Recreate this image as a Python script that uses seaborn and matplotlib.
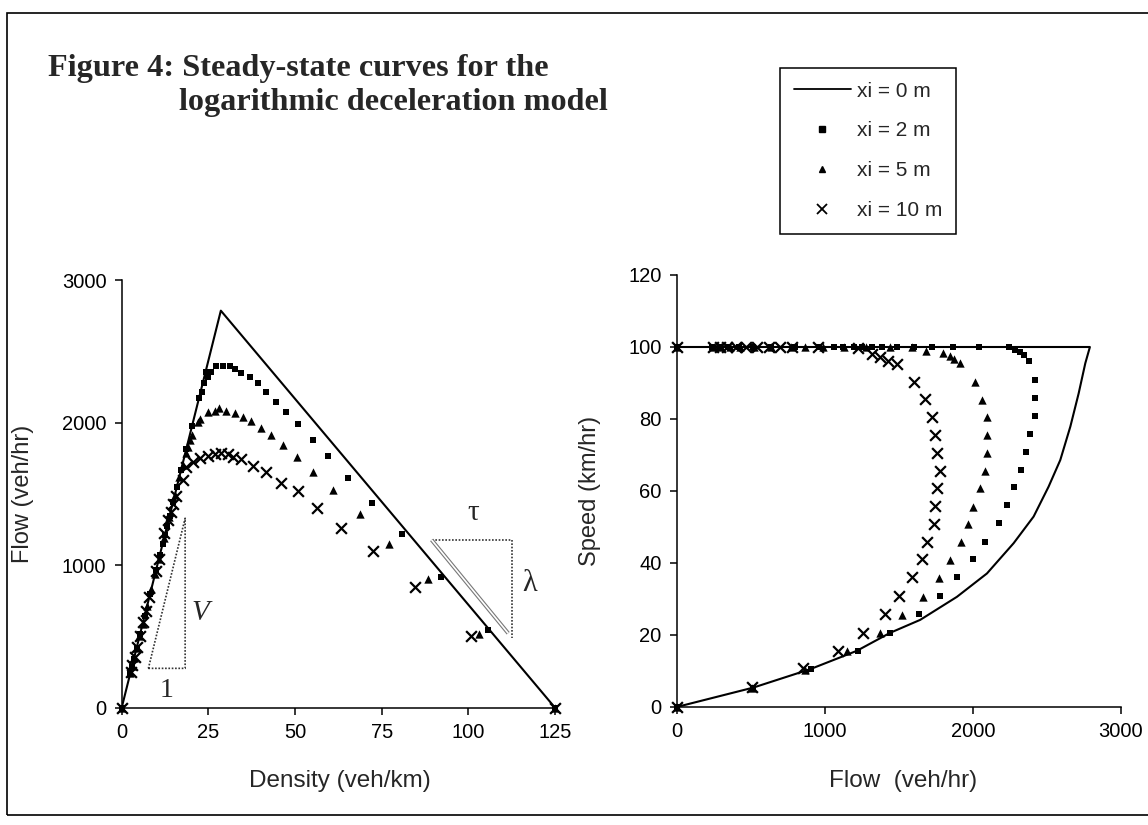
import matplotlib
matplotlib.use("Agg")
import matplotlib.pyplot as plt
import seaborn as sns
from matplotlib.lines import Line2D
from matplotlib.patches import Rectangle

# ---- left panel: flow (veh/hr) against density (veh/km) ----
k_line0 = [0, 28.6, 125]
q_line0 = [0, 2785, 0]

k_xi2 = [0, 2.4, 2.9, 3.5, 4.3, 5.3, 6.6, 8.2, 9.9, 11.0, 11.8, 12.4, 13.1, 13.8,
         14.8, 15.9, 17.1, 18.6, 20.3, 22.3, 23.3, 23.7, 25.0, 24.4, 25.9,
         27.3, 29.2, 31.1, 32.6, 34.5, 36.9, 39.3, 41.7, 44.6, 47.5, 50.8, 55.1,
         59.5, 65.3, 72.3, 80.9, 92.2, 105.6, 125]
q_xi2 = [0, 234, 283, 341, 419, 516, 643, 799, 964, 1071, 1149, 1208, 1276, 1344,
         1441, 1549, 1666, 1812, 1977, 2170, 2214, 2275, 2322, 2356, 2356,
         2399, 2399, 2399, 2373, 2345, 2317, 2275, 2214, 2146, 2075, 1989, 1878,
         1767, 1614, 1436, 1216, 920, 546, 0]

k_xi5 = [0, 2.5, 3.0, 3.6, 4.3, 5.1, 6.1, 7.3, 8.5, 9.6, 10.7, 12.2, 13.7, 15.3,
         16.6, 17.7, 18.5, 19.0, 19.6, 20.3, 22.0, 22.5,
         24.9, 26.8, 28.2, 30.2, 32.6, 35.0, 37.4, 40.3, 43.2, 46.5, 50.6, 55.2,
         61.0, 68.7, 77.1, 88.4, 103.2, 125]
q_xi5 = [0, 240, 290, 350, 420, 500, 590, 710, 830, 935, 1045, 1190, 1335, 1490,
         1620, 1700, 1790, 1830, 1875, 1915, 2005, 2022,
         2075, 2082, 2099, 2082, 2068, 2040, 2012, 1965, 1911, 1841, 1759, 1654,
         1525, 1356, 1150, 900, 518, 0]

k_xi10 = [0, 2.6, 3.1, 3.7, 4.4, 5.2, 6.2, 7.0, 8.0, 9.8, 10.7, 12.3, 13.4, 14.1,
          14.9, 15.6, 17.7, 18.6, 20.6, 22.5,
          24.9, 26.8, 28.7, 30.7, 32.1, 34.5, 37.9, 41.7, 45.9, 51.0, 56.2, 63.2,
          72.5, 84.5, 100.9, 125]
q_xi10 = [0, 250, 300, 355, 425, 505, 600, 680, 777, 957, 1040, 1227, 1318, 1374,
          1430, 1486, 1599, 1689, 1724, 1748,
          1764, 1778, 1787, 1778, 1755, 1741, 1694, 1654, 1579, 1517, 1404, 1263,
          1098, 846, 506, 0]

# ---- right panel: speed (km/hr) against flow (veh/hr) ----
flow_line0 = [0, 518, 901, 1216, 1441, 1644, 1892, 2095, 2275, 2410, 2511, 2590,
              2658, 2714, 2759, 2790, 0]
v_line0 = [0, 5.4, 10.5, 15.6, 20.6, 24.2, 30.6, 37.1, 45.5, 52.9, 61.2, 68.6,
           77.9, 87.1, 95.5, 100, 100]

flow_xi2 = [0, 241, 290, 345, 420, 515, 640, 800, 960, 1060, 1126, 1194, 1250,
            1318, 1385, 1486, 1599, 1723, 1869, 2038, 2241,
            2286, 2320, 2347, 2376, 2417, 2417, 2417, 2387, 2360, 2327, 2279,
            2230, 2173, 2085, 2004, 1896, 1779, 1637, 1441, 1227, 910, 518, 0]
v_xi2 = [100, 100, 100, 100, 100, 100, 100, 100, 100, 100, 100, 100, 100,
         100, 100, 100, 100, 100, 100, 100, 100,
         99.2, 98.7, 97.8, 96.2, 90.8, 85.7, 80.8, 75.8, 70.9, 65.8, 61.2,
         56.1, 51.0, 45.9, 41.0, 36.0, 30.8, 25.8, 20.6, 15.6, 10.6, 5.4, 0]

flow_xi5 = [0, 250, 300, 360, 430, 520, 640, 770, 867, 990, 1130, 1280, 1440, 1590,
            1684, 1797, 1847, 1874, 1914, 2016, 2061, 2095, 2095, 2095, 2083,
            2049, 2004, 1970, 1919, 1847, 1768, 1662, 1520, 1374, 1149, 867, 507, 0]
v_xi5 = [100, 100, 100, 100, 100, 100, 100, 100, 100, 100, 100, 100, 100, 100,
         99.0, 98.2, 97.5, 96.6, 95.6, 90.4, 85.3, 80.5, 75.6, 70.6, 65.6,
         60.7, 55.6, 50.8, 45.9, 40.8, 35.7, 30.6, 25.6, 20.6, 15.6, 10.3, 5.4, 0]

flow_xi10 = [0, 245, 290, 340, 400, 470, 545, 620, 700, 777, 957,
             1227, 1318, 1374, 1430, 1486, 1599, 1678, 1723, 1745, 1757, 1779,
             1757, 1745, 1734, 1689, 1655, 1588, 1504, 1407, 1261, 1088, 856, 507, 0]
v_xi10 = [100, 100, 100, 100, 100, 100, 100, 100, 100, 100, 100,
          99.6, 98.0, 97.3, 96.2, 95.3, 90.4, 85.5, 80.5, 75.6, 70.6, 65.6,
          60.7, 55.8, 50.8, 45.9, 41.0, 36.0, 30.8, 25.8, 20.6, 15.6, 10.7, 5.6, 0]

legend_labels = ["xi = 0 m", "xi = 2 m", "xi = 5 m", "xi = 10 m"]

sns.set_theme(style="ticks")
plt.rcParams["font.family"] = ["Liberation Sans", "DejaVu Sans"]
plt.rcParams["axes.linewidth"] = 1.1
plt.rcParams["xtick.major.width"] = 1.1
plt.rcParams["ytick.major.width"] = 1.1
plt.rcParams["xtick.major.size"] = 5
plt.rcParams["ytick.major.size"] = 5

W, H = 1148, 825
fig = plt.figure(figsize=(W / 100, H / 100), dpi=100)
fig.patch.set_facecolor("white")


def add_axes_px(x0, x1, ytop, ybot):
    return fig.add_axes([x0 / W, 1 - ybot / H, (x1 - x0) / W, (ybot - ytop) / H])


def draw_series(ax, x, y, marker, size, lw=0):
    sns.scatterplot(x=x, y=y, marker=marker, s=size, color="black",
                    linewidth=lw, ax=ax, clip_on=False, zorder=3)


styles = [("s", 22, 0), ("^", 36, 0), ("x", 60, 1.6)]

# left panel
ax1 = add_axes_px(121.7, 555, 280, 707.7)
sns.lineplot(x=k_line0, y=q_line0, sort=False, estimator=None, color="black",
             lw=1.5, ax=ax1, zorder=2)
for (m, s, lw), (x, y) in zip(styles, [(k_xi2, q_xi2), (k_xi5, q_xi5), (k_xi10, q_xi10)]):
    draw_series(ax1, x, y, m, s, lw)
ax1.set_xlim(0, 125)
ax1.set_ylim(0, 3000)
ax1.set_xticks([0, 25, 50, 75, 100, 125])
ax1.set_yticks([0, 1000, 2000, 3000])
ax1.set_xlabel("")
ax1.set_ylabel("")

# slope triangles
ax1.plot([7.7, 18.3, 18.3, 7.7], [276, 276, 1329, 276], ls=(0, (1, 1)),
         color="#333333", lw=1.2)
ax1.plot([89.4, 112.5, 112.5], [1177, 1177, 487], ls=(0, (1, 1)),
         color="#333333", lw=1.2)
ax1.plot([89.4, 111.5], [1177, 522], color="#777777", lw=2.8, solid_capstyle="butt")
ax1.plot([89.4, 111.5], [1177, 522], color="white", lw=1.2, solid_capstyle="butt")
serif = ["Liberation Serif", "DejaVu Serif"]
ax1.text(22.6, 664, "V", family=serif, style="italic", fontsize=21, ha="center", va="center")
ax1.text(13.0, 124, "1", family=serif, fontsize=20, ha="center", va="center")
ax1.text(101.5, 1364, "τ", family=serif, fontsize=21, ha="center", va="center")
ax1.text(117.8, 873, "λ", family=serif, fontsize=22, ha="center", va="center")

# right panel
ax2 = add_axes_px(676.7, 1121, 275, 707)
sns.lineplot(x=flow_line0, y=v_line0, sort=False, estimator=None, color="black",
             lw=1.5, ax=ax2, zorder=2)
for (m, s, lw), (x, y) in zip(styles, [(flow_xi2, v_xi2), (flow_xi5, v_xi5), (flow_xi10, v_xi10)]):
    draw_series(ax2, x, y, m, s, lw)
ax2.set_xlim(0, 3000)
ax2.set_ylim(0, 120)
ax2.set_xticks([0, 1000, 2000, 3000])
ax2.set_yticks([0, 20, 40, 60, 80, 100, 120])
ax2.set_xlabel("")
ax2.set_ylabel("")

for ax in (ax1, ax2):
    sns.despine(ax=ax)
    ax.tick_params(labelsize=14.5, colors="black", pad=6)
    for sp in ax.spines.values():
        sp.set_color("black")

# axis titles
fig.text(340 / W, 1 - 781 / H, "Density (veh/km)", fontsize=17.5, ha="center", va="center")
fig.text(903 / W, 1 - 781 / H, "Flow  (veh/hr)", fontsize=17.5, ha="center", va="center")
fig.text(23 / W, 1 - 494 / H, "Flow (veh/hr)", rotation=90, fontsize=17,
         ha="center", va="center")
fig.text(590 / W, 1 - 491 / H, "Speed (km/hr)", rotation=90, fontsize=17,
         ha="center", va="center")

# title
fig.text(47.6 / W, 1 - 76 / H, "Figure 4: Steady-state curves for the", family=serif,
         weight="bold", fontsize=23.2, va="baseline")
fig.text(179 / W, 1 - 110 / H, "logarithmic deceleration model", family=serif,
         weight="bold", fontsize=23.2, va="baseline")

# legend
handles = [Line2D([0], [0], color="black", lw=1.3),
           Line2D([0], [0], marker="s", ls="none", color="black", ms=4.2),
           Line2D([0], [0], marker="^", ls="none", color="black", ms=5),
           Line2D([0], [0], marker="x", ls="none", color="black", ms=6.5, mew=1.3)]
leg = fig.legend(handles, legend_labels, loc="upper left",
                 bbox_to_anchor=(780 / W, 1 - 68 / H), borderaxespad=0,
                 fontsize=15, frameon=True, fancybox=False, framealpha=1,
                 edgecolor="black", handlelength=2.75, handletextpad=0.3,
                 labelspacing=1.0, borderpad=0.65, numpoints=1)
leg.get_frame().set_linewidth(1.1)

# outer frame of the scanned figure
fig.patches.append(Rectangle((7 / W, 1 - 815 / H), (1200 - 7) / W, (815 - 13) / H,
                             transform=fig.transFigure, fill=False, lw=1.2,
                             ec="black"))

fig.savefig("out.png", dpi=100)
